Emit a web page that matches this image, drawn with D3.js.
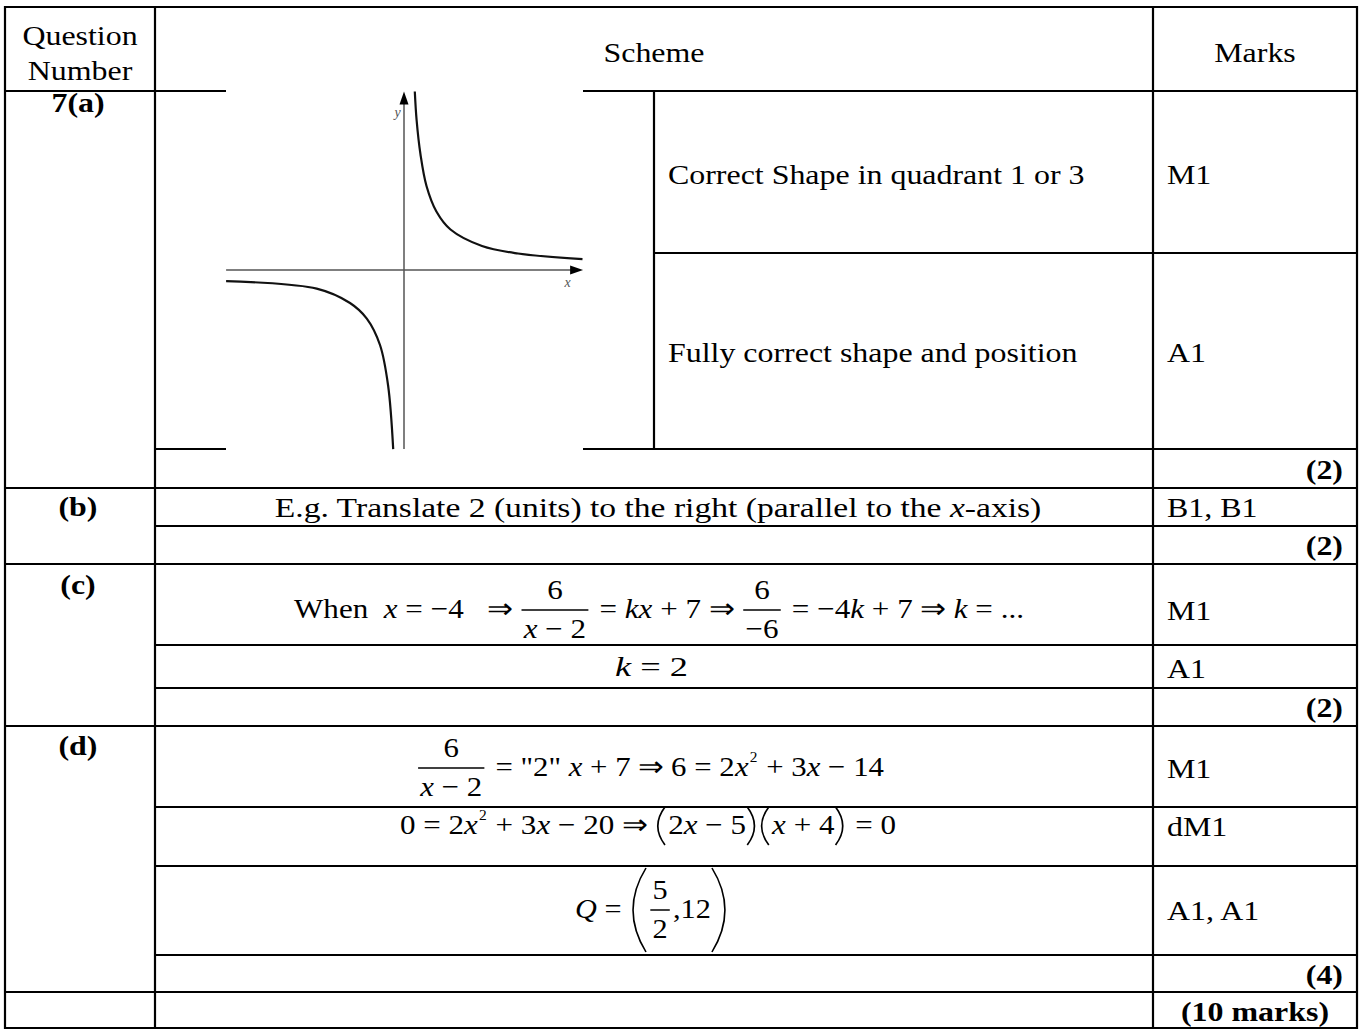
<!DOCTYPE html>
<html>
<head>
<meta charset="utf-8">
<script src="https://cdn.jsdelivr.net/npm/d3@7"></script>
<style>
  body { margin: 0; background: #fff; }
  svg { display: block; font-family: "Liberation Serif", "Times New Roman", serif; }
</style>
</head>
<body>
<svg id="chart" width="1363" height="1029"></svg>
<script>
// ── table content ─────────────────────────────────────────────
const headers = [["Question", "Number"], ["Scheme"], ["Marks"]];
const partLabels = ["7(a)", "(b)", "(c)", "(d)"];
const notesA = ["Correct Shape in quadrant 1 or 3", "Fully correct shape and position"];
const marksA = ["M1", "A1"];
const marksB = ["B1, B1"];
const marksC = ["M1", "A1"];
const marksD = ["M1", "dM1", "A1, A1"];
const subtotals = ["(2)", "(2)", "(2)", "(4)"];
const totalMarks = "(10 marks)";

// ── sketch curve y = k/x (graph units) ──
const upperX = [0.36, 0.42, 0.55, 0.75, 1.08, 1.55, 2.6, 3.8, 5.95];
const upperY = [5.95, 5.0, 3.85, 2.8, 1.95, 1.35, 0.8, 0.55, 0.36];
const lowerX = [-5.93, -2.91, -1.8, -1.24, -0.8, -0.53, -0.36];
const lowerY = [-0.37, -0.62, -1.1, -1.62, -2.5, -3.85, -5.97];

// ── layout ────────────────────────────────────────────────────
const FS = 28, SX = 1.14;
const colX = [5, 155, 1153, 1357];
const splitX = 654;
const fullRows = [7, 91, 488, 564, 726, 992, 1028];
const subRows = [449, 526, 645, 688, 807, 866, 955];

const svg = d3.select("#chart");

// table grid
const grid = svg.append("g").attr("stroke", "#000").attr("stroke-width", 2.2);
fullRows.forEach(y => grid.append("line").attr("x1", colX[0] - 1).attr("x2", colX[3] + 1).attr("y1", y).attr("y2", y));
subRows.forEach(y => grid.append("line").attr("x1", colX[1]).attr("x2", colX[3] + 1).attr("y1", y).attr("y2", y));
grid.append("line").attr("x1", splitX).attr("x2", colX[3] + 1).attr("y1", 253).attr("y2", 253);
colX.forEach(x => grid.append("line").attr("x1", x).attr("x2", x).attr("y1", 6).attr("y2", 1029));
grid.append("line").attr("x1", splitX).attr("x2", splitX).attr("y1", 91).attr("y2", 449);

// plain text helper (stretched horizontally like the source scan)
function label(x, yc, s, opt = {}) {
  const g = svg.append("g").attr("transform", `translate(${x},${yc}) scale(${opt.sx || SX},1)`);
  const t = g.append("text")
    .attr("y", FS * 0.34)
    .attr("font-size", opt.size || FS)
    .attr("text-anchor", opt.anchor || "start")
    .attr("font-weight", opt.bold ? "bold" : null);
  if (Array.isArray(s)) {
    s.forEach(p => t.append("tspan").attr("font-style", p.i ? "italic" : null).text(p.i || p));
  } else t.text(s);
  return t;
}

// headers
label(80, 35, headers[0][0], { anchor: "middle" });
label(80, 70, headers[0][1], { anchor: "middle" });
label(654, 52, headers[1][0], { anchor: "middle" });
label(1255, 52, headers[2][0], { anchor: "middle" });

// part labels
[[partLabels[0], 102], [partLabels[1], 506], [partLabels[2], 584], [partLabels[3], 745]]
  .forEach(([s, y]) => label(78, y, s, { anchor: "middle", bold: true }));

// part (a) notes and marks
label(668, 174, notesA[0]);
label(668, 352, notesA[1]);
label(1167, 174, marksA[0]);
label(1167, 352, marksA[1]);

// part (b)
label(658, 507, ["E.g. Translate 2 (units) to the right (parallel to the ", { i: "x" }, "-axis)"], { anchor: "middle", sx: 1.2 });
label(1167, 507, marksB[0]);

// part (c), (d) marks
label(1167, 610, marksC[0]);
label(1167, 668, marksC[1]);
label(1167, 768, marksD[0]);
label(1167, 826, marksD[1]);
label(1167, 910, marksD[2]);

// subtotals and total
[469, 545, 707, 974].forEach((y, i) => label(1343, y, subtotals[i], { anchor: "end", bold: true }));
label(1255, 1011, totalMarks, { anchor: "middle", bold: true });

// ── math layout ───────────────────────────────────────────────
// items: "text" upright, {i:"x"} italic, {f:[num, den]}, {sup:"2"}, {p:"(", h}
function run(g, items, x, base) {
  items.forEach(it => {
    if (typeof it === "string" || it.i !== undefined) {
      const t = g.append("text").attr("x", x).attr("y", base).attr("font-size", FS)
        .attr("font-style", typeof it === "string" ? null : "italic")
        .attr("xml:space", "preserve")
        .text(typeof it === "string" ? it : it.i);
      x += t.node().getComputedTextLength();
    } else if (it.sup) {
      const t = g.append("text").attr("x", x + 1).attr("y", base - FS * 0.5).attr("font-size", FS * 0.5).text(it.sup);
      x += t.node().getComputedTextLength() + 2;
    } else if (it.f) {
      const bar = base - FS * 0.3;
      const gn = g.append("g"), gd = g.append("g");
      const wn = run(gn, it.f[0], 0, bar - 11);
      const wd = run(gd, it.f[1], 0, bar + 28);
      const w = Math.max(wn, wd) + 6;
      gn.attr("transform", `translate(${x + (w - wn) / 2},0)`);
      gd.attr("transform", `translate(${x + (w - wd) / 2},0)`);
      g.append("line").attr("x1", x + 1).attr("x2", x + w - 1).attr("y1", bar).attr("y2", bar)
        .attr("stroke", "#000").attr("stroke-width", 1.5);
      x += w + 2;
    } else if (it.p) {
      const mid = base - FS * 0.3, h = it.h, w = h * 0.15 + 3;
      const open = it.p === "(";
      const xa = open ? x + w : x + 1, xb = open ? x - w * 0.6 + 1 : x + w * 1.6;
      g.append("path")
        .attr("d", `M${xa},${mid - h / 2} Q${xb},${mid} ${xa},${mid + h / 2}`)
        .attr("fill", "none").attr("stroke", "#000").attr("stroke-width", 1.5);
      x += w + 3;
    }
  });
  return x;
}

// fit a formula between left and right edges; cy is the math-axis height
function formula(left, right, cy, items) {
  const g = svg.append("g");
  const w = run(g, items, 0, 0);
  g.attr("transform", `translate(${left},${cy + FS * 0.3}) scale(${(right - left) / w},1)`);
}

const xm2 = [{ i: "x" }, " \u2212 2"];
formula(294, 1024, 610, ["When  ", { i: "x" }, " = \u22124   \u21D2 ", { f: [["6"], xm2] }, " = ", { i: "kx" }, " + 7 \u21D2 ",
  { f: [["6"], ["\u22126"]] }, " = \u22124", { i: "k" }, " + 7 \u21D2 ", { i: "k" }, " = ..."]);
formula(615, 688, 668, [{ i: "k" }, " = 2"]);
formula(417, 884, 768, [{ f: [["6"], xm2] }, " = \"2\"", { i: " x" }, " + 7 \u21D2 6 = 2", { i: "x" }, { sup: "2" },
  " + 3", { i: "x" }, " \u2212 14"]);
formula(400, 896, 826, ["0 = 2", { i: "x" }, { sup: "2" }, " + 3", { i: "x" }, " \u2212 20 \u21D2 ",
  { p: "(", h: 38 }, "2", { i: "x" }, " \u2212 5", { p: ")", h: 38 }, { p: "(", h: 38 }, { i: "x" }, " + 4", { p: ")", h: 38 }, " = 0"]);
formula(575, 731, 910, [{ i: "Q" }, " = ", { p: "(", h: 84 }, { f: [["5"], ["2"]] }, ",12", { p: ")", h: 84 }]);

// ── sketch of the curve ───────────────────────────────────────
const gx = d3.scaleLinear().domain([-6, 6]).range([224, 584]);
const gy = d3.scaleLinear().domain([-6, 6]).range([450, 90]);

const sketch = svg.append("g");
sketch.append("rect").attr("x", 226).attr("y", 89).attr("width", 357).attr("height", 362).attr("fill", "#fff");

sketch.append("line").attr("x1", gx(-5.93)).attr("x2", gx(5.7)).attr("y1", gy(0)).attr("y2", gy(0))
  .attr("stroke", "#555").attr("stroke-width", 1.5);
sketch.append("line").attr("x1", gx(0)).attr("x2", gx(0)).attr("y1", gy(-5.97)).attr("y2", gy(5.7))
  .attr("stroke", "#555").attr("stroke-width", 1.5);
// arrow heads
sketch.append("path")
  .attr("d", `M${gx(5.97)},${gy(0)} L${gx(5.97) - 13},${gy(0) - 4.5} L${gx(5.97) - 13},${gy(0) + 4.5} Z`)
  .attr("fill", "#000");
sketch.append("path")
  .attr("d", `M${gx(0)},${gy(5.95)} L${gx(0) - 4.5},${gy(5.95) + 13} L${gx(0) + 4.5},${gy(5.95) + 13} Z`)
  .attr("fill", "#000");
sketch.append("text").attr("x", gx(-0.32)).attr("y", gy(5.1)).attr("font-size", 14)
  .attr("font-style", "italic").attr("fill", "#555").text("y");
sketch.append("text").attr("x", gx(5.35)).attr("y", gy(-0.55)).attr("font-size", 14)
  .attr("font-style", "italic").attr("fill", "#555").text("x");

const line = d3.line().x(d => gx(d[0])).y(d => gy(d[1])).curve(d3.curveCatmullRom.alpha(0.5));
[[upperX, upperY], [lowerX, lowerY]].forEach(([xs, ys]) => {
  sketch.append("path")
    .attr("d", line(xs.map((x, i) => [x, ys[i]])))
    .attr("fill", "none").attr("stroke", "#111").attr("stroke-width", 2.2);
});
</script>
</body>
</html>
